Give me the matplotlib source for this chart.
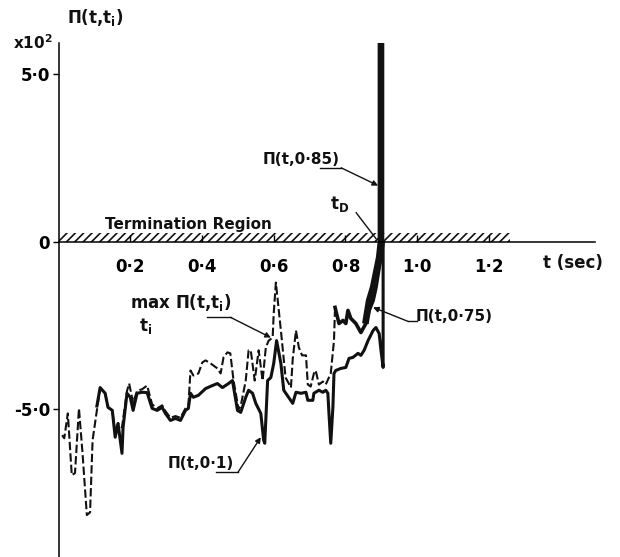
import matplotlib
matplotlib.use('Agg')
import matplotlib.pyplot as plt

plt.rcParams['font.family'] = ['DejaVu Sans']
plt.rcParams['hatch.linewidth'] = 1.2

# max over t_i of Pi(t, t_i)  (dashed)
t_max = [0.010, 0.016, 0.026, 0.037, 0.046, 0.057, 0.067, 0.079, 0.088, 0.095,
         0.107, 0.116, 0.130, 0.138, 0.150, 0.158, 0.166, 0.177, 0.180, 0.191,
         0.197, 0.208, 0.219, 0.233, 0.247, 0.261, 0.275, 0.289, 0.298, 0.312,
         0.326, 0.340, 0.354, 0.362, 0.368, 0.376, 0.390, 0.401, 0.410, 0.424,
         0.443, 0.452, 0.460, 0.471, 0.479, 0.488, 0.502, 0.508, 0.522, 0.530,
         0.536, 0.547, 0.558, 0.569, 0.578, 0.586, 0.597, 0.600, 0.606, 0.620,
         0.633, 0.648, 0.653, 0.662, 0.670, 0.679, 0.690, 0.695, 0.703, 0.712,
         0.717, 0.726, 0.737, 0.745, 0.759, 0.768, 0.771]
p_max = [-5.77, -5.86, -5.12, -6.96, -6.90, -4.97, -6.31, -8.15, -8.07, -5.92,
         -5.03, -4.38, -4.52, -4.94, -5.03, -5.70, -5.42, -5.54, -5.30, -4.45,
         -4.23, -4.80, -4.45, -4.40, -4.29, -4.85, -4.97, -4.88, -5.05, -5.25,
         -5.20, -5.25, -4.97, -4.90, -3.84, -3.99, -3.93, -3.60, -3.54, -3.63,
         -3.78, -3.93, -3.45, -3.30, -3.33, -4.14, -5.00, -4.90, -4.14, -3.24,
         -3.24, -4.14, -3.24, -4.14, -3.15, -2.95, -2.86, -2.14, -1.22, -2.65,
         -4.05, -4.35, -3.50, -2.65, -3.15, -3.39, -3.39, -4.26, -4.32, -3.93,
         -3.84, -4.26, -4.17, -4.26, -3.93, -2.95, -1.96]

# Pi(t, 0.1)
t_01 = [0.107, 0.116, 0.130, 0.138, 0.150, 0.158, 0.166, 0.177, 0.180, 0.191,
        0.200, 0.208, 0.219, 0.233, 0.247, 0.261, 0.275, 0.289, 0.298, 0.312,
        0.326, 0.340, 0.354, 0.362, 0.368, 0.376, 0.390, 0.410, 0.429, 0.443,
        0.457, 0.474, 0.485, 0.499, 0.508, 0.522, 0.530, 0.541, 0.550, 0.564,
        0.572, 0.575, 0.583, 0.592, 0.600, 0.608, 0.620, 0.628, 0.653, 0.662,
        0.676, 0.690, 0.695, 0.709, 0.712, 0.726, 0.737, 0.745, 0.751, 0.754,
        0.759, 0.765, 0.768, 0.773, 0.787, 0.801, 0.810, 0.821, 0.835, 0.843,
        0.852, 0.863, 0.877, 0.885, 0.894, 0.899, 0.905, 0.905]
p_01 = [-4.90, -4.35, -4.52, -4.94, -5.03, -5.83, -5.42, -6.31, -5.54, -4.52,
        -4.64, -5.03, -4.52, -4.49, -4.50, -4.97, -5.03, -4.94, -5.12, -5.33,
        -5.27, -5.33, -5.03, -4.97, -4.52, -4.64, -4.58, -4.38, -4.29, -4.23,
        -4.35, -4.23, -4.14, -5.03, -5.09, -4.64, -4.43, -4.52, -4.82, -5.12,
        -5.92, -6.01, -4.14, -4.05, -3.63, -2.95, -3.63, -4.43, -4.82, -4.49,
        -4.52, -4.49, -4.73, -4.73, -4.52, -4.43, -4.49, -4.43, -4.52, -5.12,
        -6.01, -4.94, -3.93, -3.84, -3.78, -3.75, -3.48, -3.45, -3.33, -3.39,
        -3.24, -2.95, -2.65, -2.56, -2.74, -3.24, -3.75, 0.0]

# Pi(t, 0.75)
t_075 = [0.771, 0.773, 0.782, 0.793, 0.801, 0.807, 0.815, 0.829, 0.843, 0.857,
         0.866, 0.877, 0.885, 0.894, 0.902, 0.905]
p_075 = [-1.96, -2.05, -2.44, -2.35, -2.44, -2.05, -2.29, -2.44, -2.71, -2.44,
         -2.05, -1.76, -1.37, -0.77, -0.27, 0.0]

# Pi(t, 0.85)
t_085 = [0.857, 0.866, 0.877, 0.885, 0.894, 0.899, 0.899]
p_085 = [-2.35, -1.76, -1.37, -0.95, -0.48, 0.0, 5.95]

x_ticks = [0.2, 0.4, 0.6, 0.8, 1.0, 1.2]
x_labels = ['0·2', '0·4', '0·6', '0·8', '1·0', '1·2']
y_ticks = [-5.0, 0.0, 5.0]
y_labels = ['-5·0', '0', '5·0']
region_end = 1.26

ink = '#111111'

fig = plt.figure(figsize=(6.2, 5.57), dpi=100)
ax = fig.add_axes([58.5 / 620, 0.0, 536.25 / 620, 514 / 557])
ax.set_xlim(0, 1.495)
ax.set_ylim(-9.4, 5.92)

ax.plot(t_max, p_max, color=ink, lw=1.5, dashes=(4, 1.5))
ax.plot(t_01, p_01, color=ink, lw=2.2, solid_joinstyle='round')
ax.plot(t_075, p_075, color=ink, lw=2.6, solid_joinstyle='round')
ax.plot(t_085, p_085, color=ink, lw=4.8, solid_joinstyle='round')

# termination region hatch above t axis
ax.fill_between([0, region_end], 0, 0.27, facecolor='none', edgecolor=ink,
                hatch='////', linewidth=0)

for side in ['top', 'right']:
    ax.spines[side].set_visible(False)
ax.spines['bottom'].set_position(('data', 0))
ax.spines['bottom'].set_linewidth(1.1)
ax.spines['left'].set_linewidth(1.1)

ax.set_xticks(x_ticks)
ax.set_xticklabels(x_labels, fontsize=12, fontweight='bold')
ax.tick_params(axis='x', direction='in', length=5, pad=12, width=1)
ax.set_yticks(y_ticks)
ax.set_yticklabels(y_labels, fontsize=12, fontweight='bold')
ax.tick_params(axis='y', direction='out', length=4, pad=2, width=1)

tb = dict(fontweight='bold', color=ink, clip_on=False)
ax.text(-0.071, 5.92, r'x10$^\mathbf{2}$', fontsize=11, ha='center', va='center', **tb)
ax.text(0.102, 6.67, r'Π(t,t$_\mathbf{i}$)', fontsize=12, ha='center', va='center', **tb)
ax.text(0.363, 0.50, 'Termination Region', fontsize=11, ha='center', va='center', **tb)
ax.text(1.434, -0.63, 't (sec)', fontsize=12, ha='center', va='center', **tb)
ax.text(0.341, -1.80, r'max Π(t,t$_\mathbf{i}$)', fontsize=12, ha='center', va='center', **tb)
ax.text(0.242, -2.52, r't$_\mathbf{i}$', fontsize=12, ha='center', va='center', **tb)
ax.text(0.676, 2.44, 'Π(t,0·85)', fontsize=11, ha='center', va='center', **tb)
ax.text(0.785, 1.12, r't$_\mathbf{D}$', fontsize=12, ha='center', va='center', **tb)
ax.text(1.102, -2.23, 'Π(t,0·75)', fontsize=11, ha='center', va='center', **tb)
ax.text(0.396, -6.61, 'Π(t,0·1)', fontsize=11, ha='center', va='center', **tb)


def leader(u0, u1, uy, tip):
    ax.plot([u0, u1], [uy, uy], color=ink, lw=1)
    ax.annotate('', xy=tip, xytext=(u1, uy),
                arrowprops=dict(arrowstyle='-|>', color=ink, lw=1,
                                shrinkA=0, shrinkB=0, mutation_scale=8))


leader(0.415, 0.480, -2.26, (0.592, -2.86))
leader(0.730, 0.788, 2.20, (0.891, 1.67))
leader(1.000, 0.975, -2.38, (0.877, -1.96))
leader(0.438, 0.500, -6.88, (0.564, -5.83))
ax.plot([0.830, 0.885], [0.86, 0.09], color=ink, lw=1)

fig.savefig('out.png', dpi=100, facecolor='white')
